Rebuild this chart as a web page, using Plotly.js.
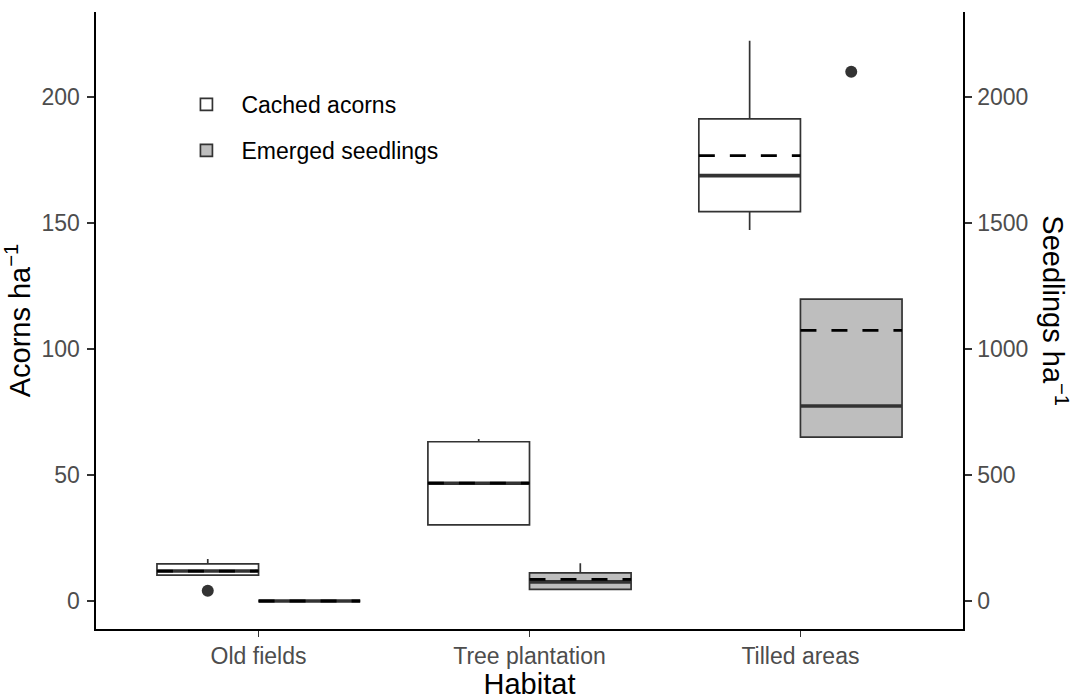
<!DOCTYPE html>
<html>
<head>
<meta charset="utf-8">
<script src="https://cdn.plot.ly/plotly-3.0.1.min.js"></script>
<style>html,body{margin:0;padding:0;background:#fff;}#chart{width:1076px;height:700px;}</style>
</head>
<body>
<div id="chart"></div>
<script>
const habitats = ["Old fields", "Tree plantation", "Tilled areas"];
const tickVals = [1, 2, 3];
// Cached acorns (acorns ha-1)
const acornQ1 = [10.3, 30.2, 154.5];
const acornMedian = [11.9, 46.7, 168.8];
const acornQ3 = [14.7, 63.2, 191.3];
const acornLower = [10.3, 30.2, 147.2];
const acornUpper = [16.7, 64.3, 222.3];
const acornMean = [11.9, 46.8, 176.7];
const acornOutliers = [[4.1], [], []];
// Emerged seedlings (seedlings ha-1)
const seedQ1 = [0, 46, 650];
const seedMedian = [0, 76, 774];
const seedQ3 = [0, 112, 1198];
const seedLower = [0, 46, 650];
const seedUpper = [0, 150, 1198];
const seedMean = [0, 86, 1074];
const seedOutliers = [[], [], [2100]];

const dodge = 0.1875, boxW = 0.375;
const lineCol = '#333333';
const font = 'Liberation Sans, Arial, sans-serif';

const acornX = tickVals.map(v => v - dodge);
const seedX = tickVals.map(v => v + dodge);

function segs(xs, ys) {
  const X = [], Y = [];
  xs.forEach((x, i) => { X.push(x - boxW / 2, x + boxW / 2, null); Y.push(ys[i], ys[i], null); });
  return {X, Y};
}
function pts(xs, outs) {
  const X = [], Y = [];
  outs.forEach((arr, i) => arr.forEach(v => { X.push(xs[i]); Y.push(v); }));
  return {X, Y};
}

const traces = [];
function addSeries(name, xs, q1, med, q3, lo, hi, mean, outs, fill, yaxis, group) {
  traces.push({
    type: 'box', name: name, x: xs, q1: q1, median: med, q3: q3,
    lowerfence: lo, upperfence: hi, width: boxW, whiskerwidth: 0,
    fillcolor: fill, line: {color: lineCol, width: 1.7},
    yaxis: yaxis, legendgroup: group, showlegend: true, boxpoints: false, hoverinfo: 'skip'
  });
  const m = segs(xs, med);
  traces.push({type: 'scatter', mode: 'lines', x: m.X, y: m.Y, yaxis: yaxis,
    line: {color: lineCol, width: 3.6}, showlegend: false, hoverinfo: 'skip', connectgaps: false});
  const mn = segs(xs, mean);
  traces.push({type: 'scatter', mode: 'lines', x: mn.X, y: mn.Y, yaxis: yaxis,
    line: {color: '#000000', width: 2.8, dash: '16px,15px'}, showlegend: false, hoverinfo: 'skip', connectgaps: false});
  const o = pts(xs, outs);
  traces.push({type: 'scatter', mode: 'markers', x: o.X, y: o.Y, yaxis: yaxis,
    marker: {color: lineCol, size: 12}, showlegend: false, hoverinfo: 'skip'});
}
addSeries('Cached acorns', acornX, acornQ1, acornMedian, acornQ3, acornLower, acornUpper, acornMean, acornOutliers, '#FFFFFF', 'y', 'a');
addSeries('Emerged seedlings', seedX, seedQ1, seedMedian, seedQ3, seedLower, seedUpper, seedMean, seedOutliers, '#BEBEBE', 'y2', 'b');

const tickFont = {size: 23, color: '#4D4D4D', family: font};
const titleFont = {size: 29, color: '#000000', family: font};

const layout = {
  width: 1076, height: 700,
  margin: {l: 96, r: 113, t: 12, b: 71},
  paper_bgcolor: '#FFFFFF', plot_bgcolor: '#FFFFFF',
  font: {family: font, color: '#000000'},
  showlegend: true,
  legend: {x: 0.087, y: 0.885, xanchor: 'left', yanchor: 'top', font: {size: 23, color: '#000000', family: font},
    traceorder: 'grouped', tracegroupgap: 13, itemwidth: 60, bgcolor: 'rgba(0,0,0,0)'},
  xaxis: {range: [0.4, 3.6], tickvals: tickVals, ticktext: habitats, showgrid: false, zeroline: false,
    showline: true, linecolor: '#000000', linewidth: 1.6, ticks: 'outside', ticklen: 6, tickcolor: '#333333', tickwidth: 1.3,
    tickfont: tickFont,
    title: {text: 'Habitat', font: titleFont, standoff: 4}},
  yaxis: {range: [-11.1, 233.7], tickvals: [0, 50, 100, 150, 200], showgrid: false, zeroline: false,
    showline: true, linecolor: '#000000', linewidth: 1.6, ticks: 'outside', ticklen: 7, tickcolor: '#333333', tickwidth: 1.3,
    tickfont: tickFont, ticklabelstandoff: 3,
    title: {text: 'Acorns ha<sup>−1</sup>', font: titleFont, standoff: 2}},
  yaxis2: {range: [-111, 2337], tickvals: [0, 500, 1000, 1500, 2000], overlaying: 'y', side: 'right',
    showgrid: false, zeroline: false, showline: true, linecolor: '#000000', linewidth: 1.6,
    ticks: 'outside', ticklen: 7, tickcolor: '#333333', tickwidth: 1.3,
    tickfont: tickFont, ticklabelstandoff: 1},
  annotations: [{text: 'Seedlings ha<sup>−1</sup>', xref: 'paper', yref: 'paper', x: 1.106, y: 0.515,
    xanchor: 'center', yanchor: 'middle',
    showarrow: false, textangle: 90, font: titleFont}]
};

Plotly.newPlot('chart', traces, layout, {staticPlot: true, displayModeBar: false});
</script>
</body>
</html>
